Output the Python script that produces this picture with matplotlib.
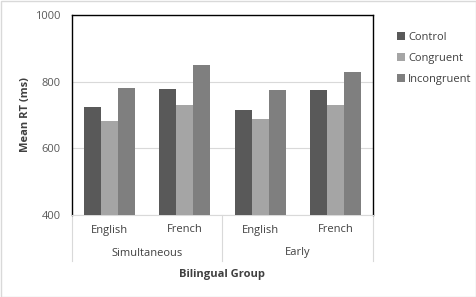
import numpy as np
import matplotlib
matplotlib.use("Agg")
import matplotlib.pyplot as plt
from matplotlib.lines import Line2D
from matplotlib.patches import Rectangle

plt.rcParams["font.family"] = ["Open Sans", "DejaVu Sans"]

languages = ["English", "French", "English", "French"]
groups = ["Simultaneous", "Early"]
conditions = ["Control", "Congruent", "Incongruent"]
control = [724, 778, 716, 775]
congruent = [682, 730, 688, 730]
incongruent = [781, 850, 775, 830]
colors = ["#595959", "#A5A5A5", "#7F7F7F"]

W, H = 477, 297
fig = plt.figure(figsize=(W / 100, H / 100), dpi=100)
ax = fig.add_axes([72 / W, (H - 215) / H, 301 / W, 200 / H])

x = np.arange(len(languages))
bw = 0.227
for i, (vals, c, lab) in enumerate(zip([control, congruent, incongruent], colors, conditions)):
    ax.bar(x + (i - 1) * bw, np.array(vals) - 400, bottom=400, width=bw,
           color=c, label=lab, zorder=3)

ax.set_xlim(-0.5, len(languages) - 0.5)
ax.set_ylim(400, 1000)
ax.set_yticks([400, 600, 800, 1000])
ax.tick_params(axis="y", length=0, labelsize=8, labelcolor="#595959", pad=8)
ax.set_xticks([])
ax.grid(axis="y", color="#D9D9D9", linewidth=0.8, zorder=0)
for s in ["top", "left", "right"]:
    ax.spines[s].set_color("black")
    ax.spines[s].set_linewidth(1.0)
ax.spines["bottom"].set_color("#D9D9D9")
ax.spines["bottom"].set_linewidth(0.8)

ax.set_ylabel("Mean RT (ms)", fontsize=8, fontweight="bold", color="#404040", labelpad=3)

# multi-level category axis
tr = ax.transAxes
depth = -46 / 200
for xv in [0, 0.5, 1]:
    ax.add_line(Line2D([xv, xv], [0, depth], transform=tr, color="#D9D9D9",
                       linewidth=0.8, clip_on=False))
for i, lab in enumerate(languages):
    ax.text((i + 0.5) / len(languages), -15 / 200, lab, transform=tr, ha="center",
            va="center", fontsize=8, color="#404040")
for i, g in enumerate(groups):
    ax.text((i + 0.5) / len(groups), -38 / 200, g, transform=tr, ha="center",
            va="center", fontsize=8, color="#404040")
ax.text(0.5, -59 / 200, "Bilingual Group", transform=tr, ha="center", va="center",
        fontsize=8, fontweight="bold", color="#404040")

ax.legend(loc="upper left", bbox_to_anchor=(387 / W, (H - 22) / H),
          bbox_transform=fig.transFigure, frameon=False, fontsize=8,
          handlelength=0.7, handleheight=0.7, handletextpad=0.3,
          labelspacing=0.9, labelcolor="#404040")

fig.add_artist(Rectangle((0.5 / W, 0.5 / H), 1 - 1 / W, 1 - 1 / H,
                         transform=fig.transFigure, fill=False,
                         edgecolor="#D9D9D9", linewidth=1))

fig.savefig("out.png", dpi=100)
